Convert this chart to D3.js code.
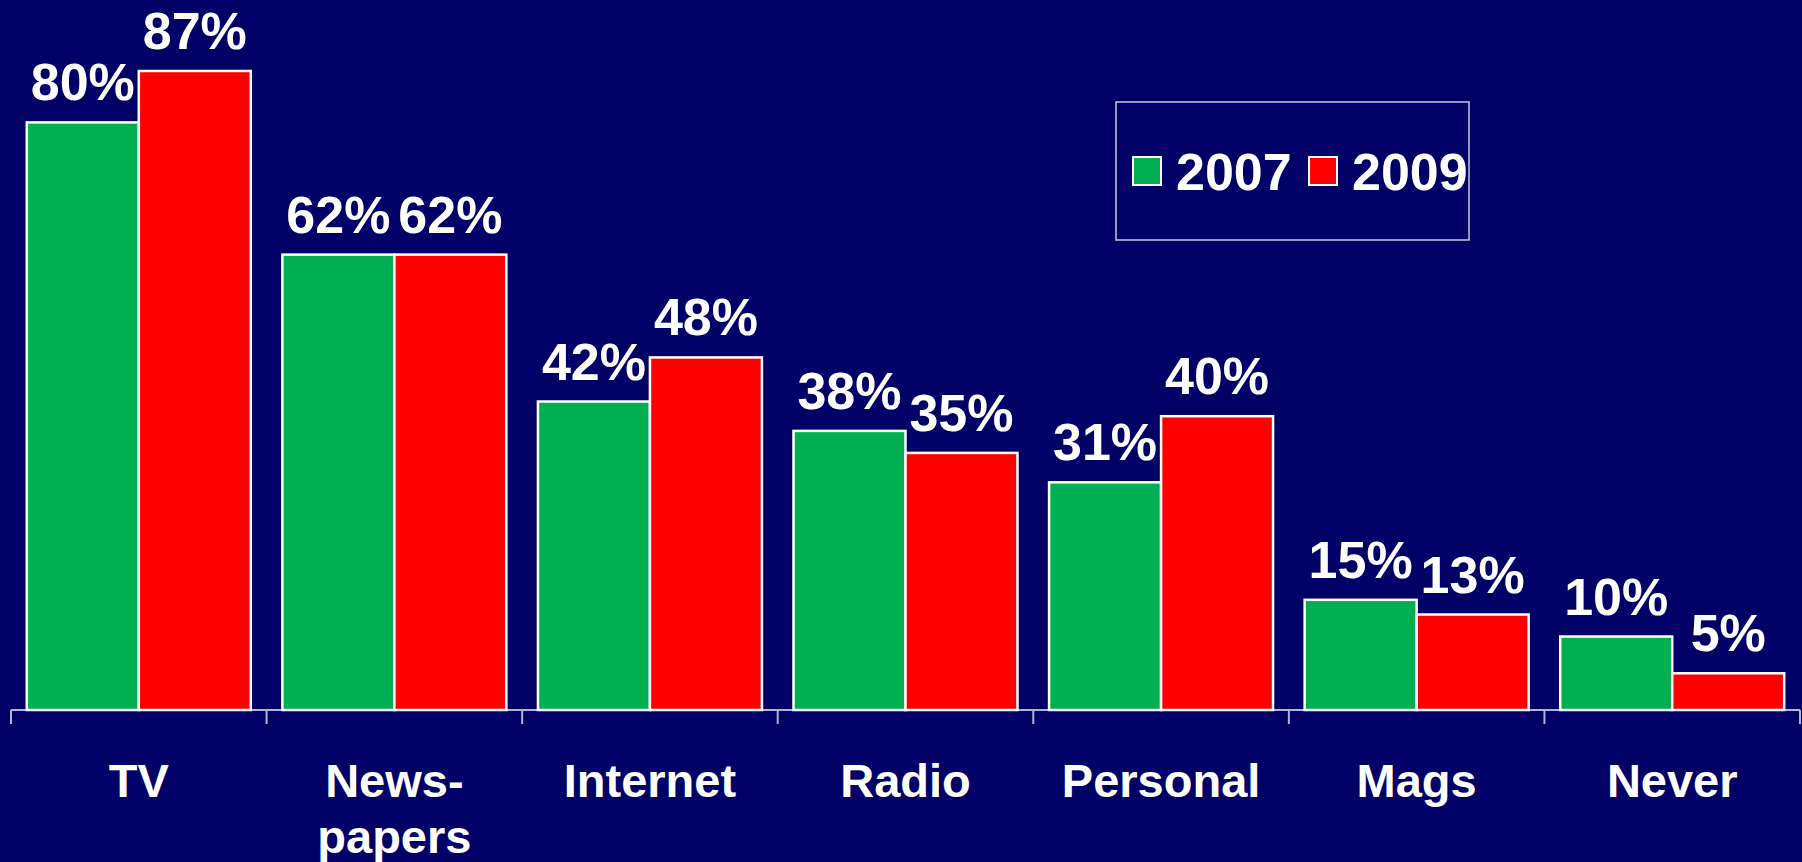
<!DOCTYPE html>
<html>
<head>
<meta charset="utf-8">
<script src="https://cdn.jsdelivr.net/npm/d3@7"></script>
<style>
  html, body { margin: 0; padding: 0; background: #000066; }
  svg { display: block; }
</style>
</head>
<body>
<svg id="chart" width="1802" height="862"></svg>
<script>
// Media sources, share of respondents, 2007 vs 2009
const categories = [["TV"], ["News-", "papers"], ["Internet"], ["Radio"], ["Personal"], ["Mags"], ["Never"]];
const seriesNames = ["2007", "2009"];
const values2007 = [80, 62, 42, 38, 31, 15, 10];
const values2009 = [87, 62, 48, 35, 40, 13, 5];
const seriesColors = ["#00B050", "#FF0000"];

const W = 1802, H = 862;
const svg = d3.select("#chart");
svg.append("rect").attr("width", W).attr("height", H).attr("fill", "#000066");

const catKeys = categories.map(c => c.join(""));
const series = [values2007, values2009];

const x0 = d3.scaleBand().domain(catKeys).range([11, 1800]).padding(0);
const x1 = d3.scaleBand().domain(seriesNames).range([0, x0.bandwidth()]).paddingInner(0).paddingOuter(0.141);
const y = d3.scaleLinear().domain([0, 100]).range([710, -24.5]);

const font = "'Liberation Sans', Arial, sans-serif";

// Category axis with ticks at the band boundaries
const axisG = svg.append("g");
axisG.append("line")
  .attr("x1", x0.range()[0]).attr("x2", x0.range()[1])
  .attr("y1", y(0)).attr("y2", y(0))
  .attr("stroke", "#b4b4cc").attr("stroke-width", 2);
const tickXs = catKeys.map(k => x0(k)).concat([x0.range()[1]]);
axisG.selectAll("line.tick").data(tickXs).join("line")
  .attr("class", "tick")
  .attr("x1", d => d).attr("x2", d => d)
  .attr("y1", y(0)).attr("y2", y(0) + 14)
  .attr("stroke", "#b4b4cc").attr("stroke-width", 2);

// Bars and value labels
const groups = svg.append("g").selectAll("g.cat").data(catKeys).join("g")
  .attr("class", "cat")
  .attr("transform", d => `translate(${x0(d)},0)`);

groups.each(function(key, i) {
  const g = d3.select(this);
  const rows = seriesNames.map((s, j) => ({ s, j, v: series[j][i] }));
  g.selectAll("rect").data(rows).join("rect")
    .attr("x", d => x1(d.s))
    .attr("y", d => y(d.v))
    .attr("width", x1.bandwidth())
    .attr("height", d => y(0) - y(d.v))
    .attr("fill", d => seriesColors[d.j])
    .attr("stroke", "#ffffff")
    .attr("stroke-width", 2.5);
  g.selectAll("text").data(rows).join("text")
    .attr("x", d => x1(d.s) + x1.bandwidth() / 2)
    .attr("y", d => y(d.v) - 22)
    .attr("text-anchor", "middle")
    .attr("font-family", font)
    .attr("font-weight", "bold")
    .attr("font-size", 52)
    .attr("fill", "#ffffff")
    .text(d => d.v + "%");
});

// Category labels
svg.append("g").selectAll("text").data(categories).join("text")
  .attr("x", (d, i) => x0(catKeys[i]) + x0.bandwidth() / 2)
  .attr("y", 797)
  .attr("text-anchor", "middle")
  .attr("font-family", font)
  .attr("font-weight", "bold")
  .attr("font-size", 47)
  .attr("fill", "#ffffff")
  .each(function(lines) {
    const t = d3.select(this);
    lines.forEach((ln, k) => {
      t.append("tspan")
        .attr("x", t.attr("x"))
        .attr("dy", k === 0 ? 0 : 56)
        .text(ln);
    });
  });

// Legend
const legend = svg.append("g");
legend.append("rect")
  .attr("x", 1116).attr("y", 102).attr("width", 353).attr("height", 138)
  .attr("fill", "none").attr("stroke", "#c8c8dc").attr("stroke-width", 1.5);
const legendItems = [{ name: seriesNames[0], x: 1133 }, { name: seriesNames[1], x: 1309 }];
legendItems.forEach((it, j) => {
  legend.append("rect")
    .attr("x", it.x).attr("y", 157).attr("width", 28).attr("height", 28)
    .attr("fill", seriesColors[j]).attr("stroke", "#ffffff").attr("stroke-width", 2);
  legend.append("text")
    .attr("x", it.x + 43).attr("y", 190)
    .attr("font-family", font).attr("font-weight", "bold").attr("font-size", 52)
    .attr("fill", "#ffffff")
    .text(it.name);
});
</script>
</body>
</html>
